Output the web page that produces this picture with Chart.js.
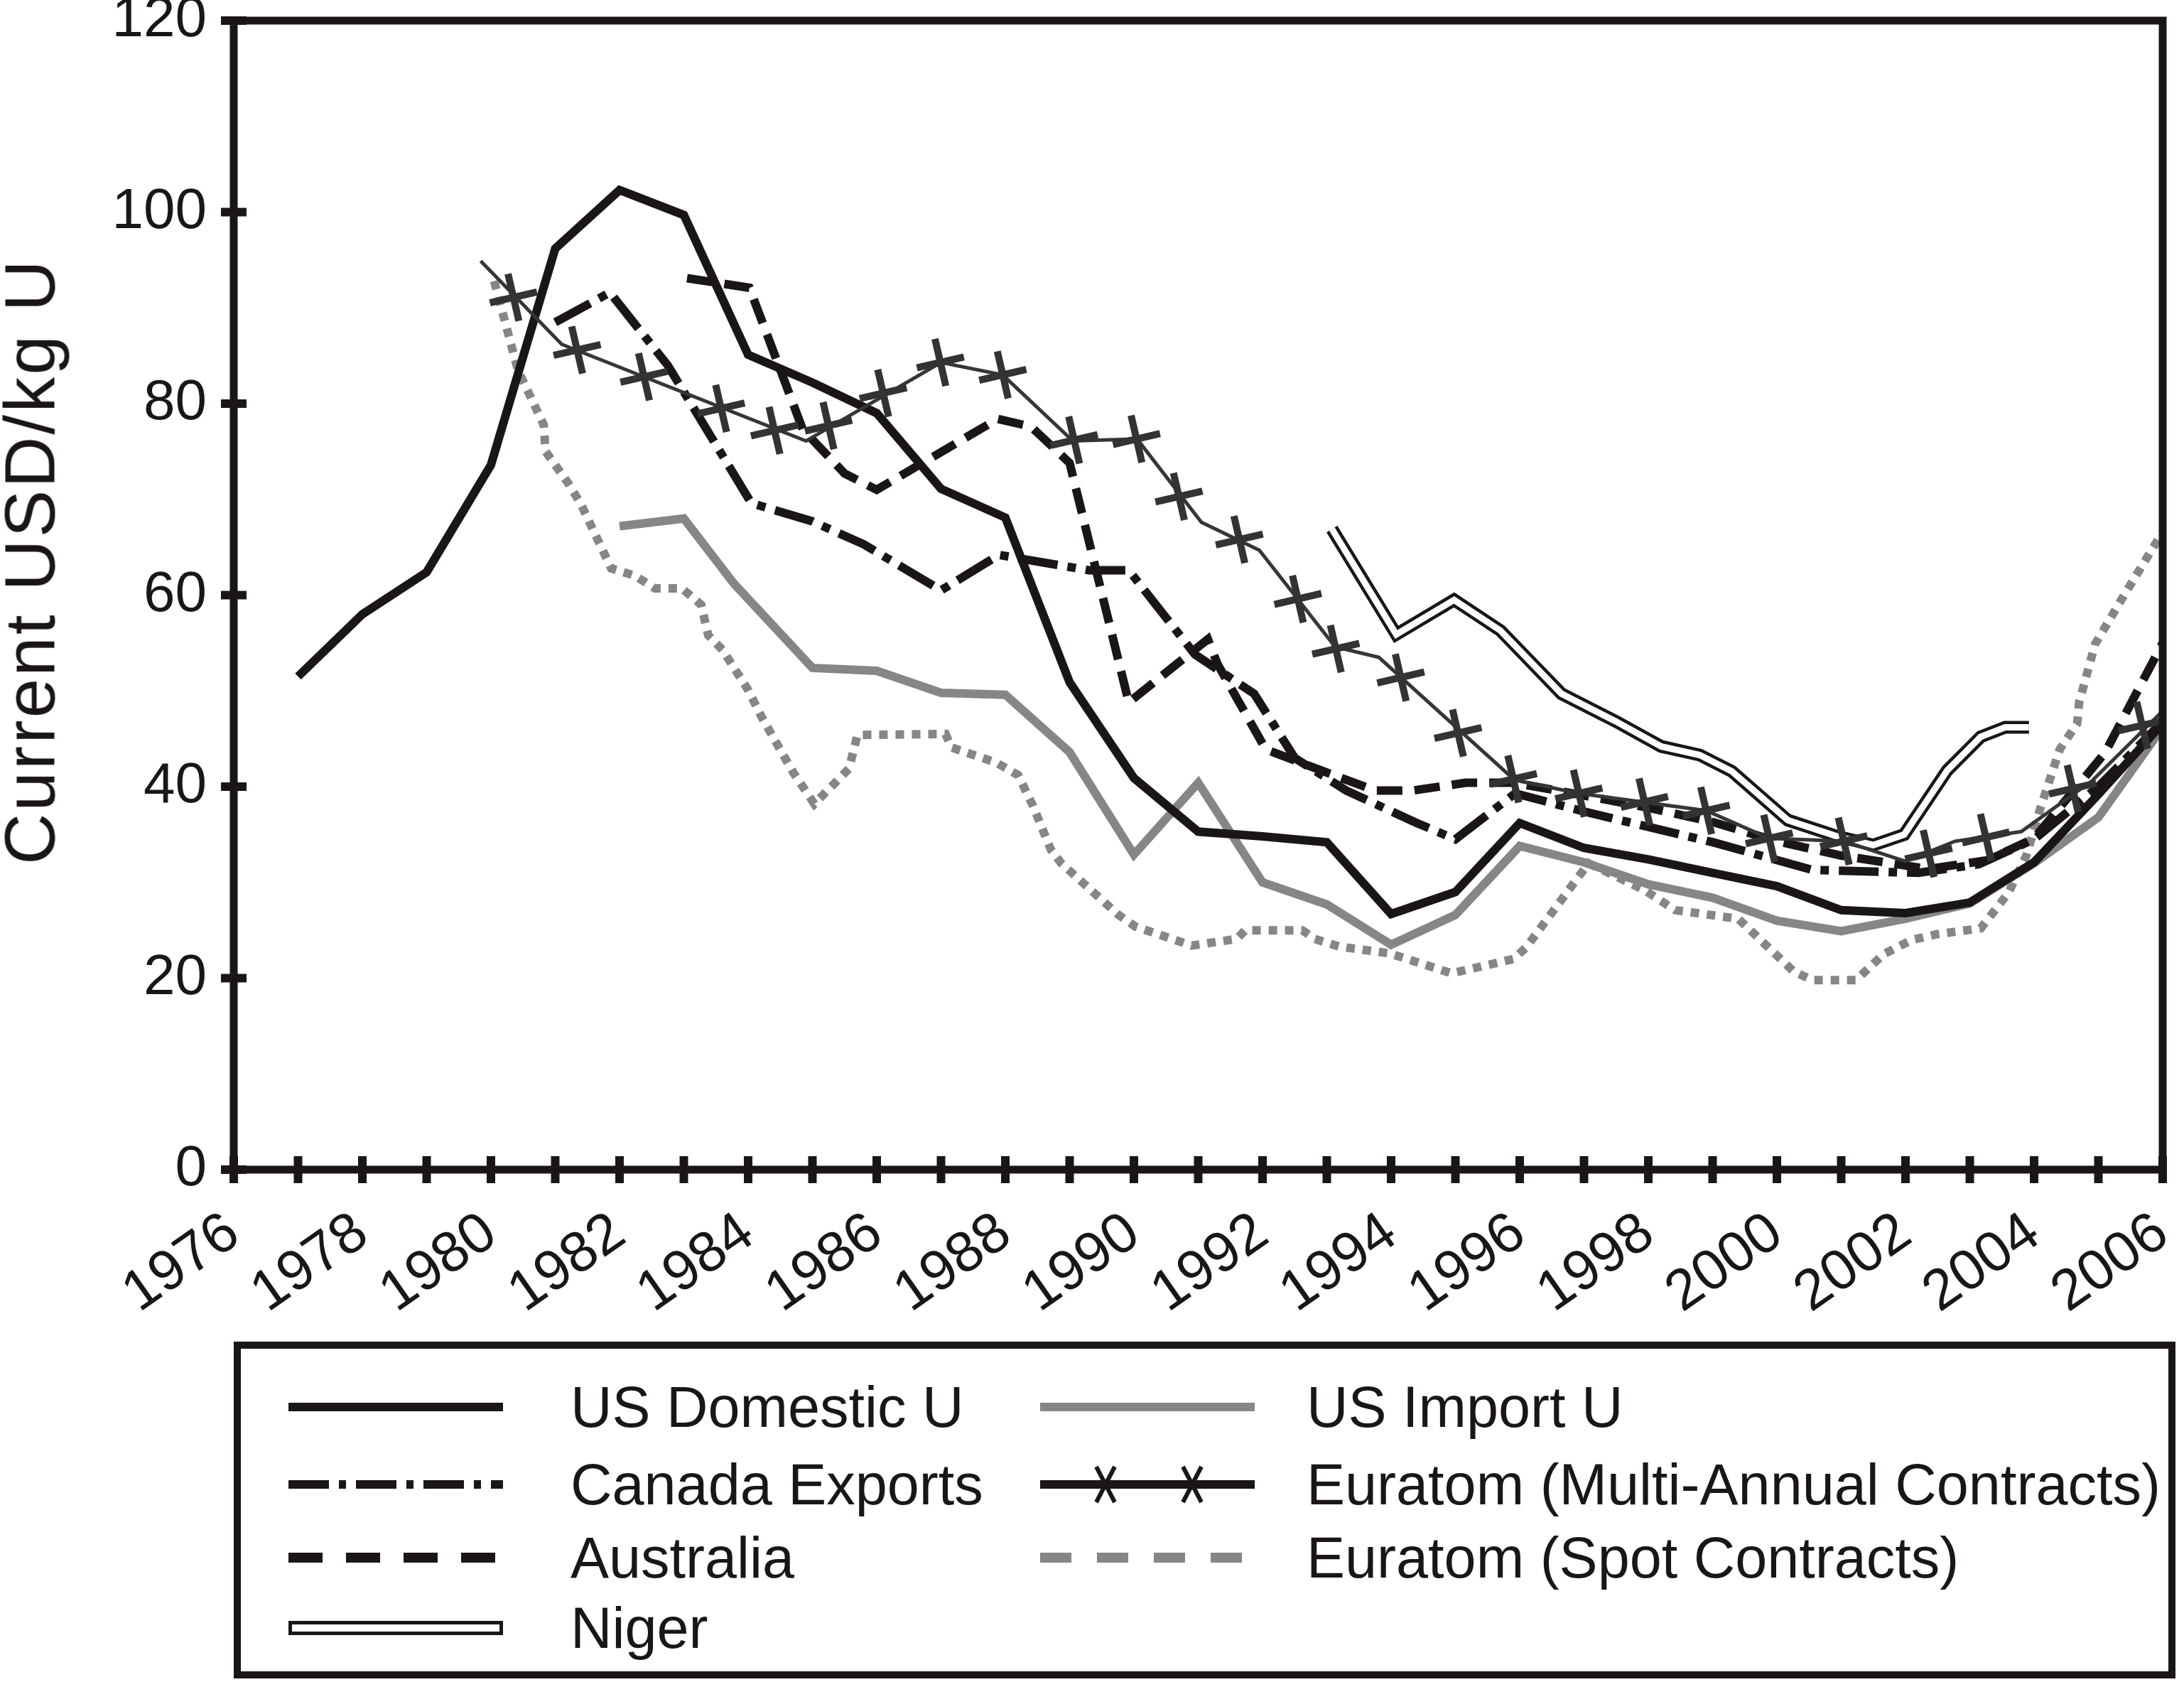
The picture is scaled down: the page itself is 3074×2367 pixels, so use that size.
<!DOCTYPE html>
<html>
<head>
<meta charset="utf-8">
<title>Uranium prices</title>
<script src="https://cdn.jsdelivr.net/npm/chart.js@4.4.0/dist/chart.umd.min.js"></script>
<style>
    html, body { margin: 0; padding: 0; background: #fff; }
    #wrap { position: relative; width: 3074px; height: 2367px; font-family: "Liberation Sans", Arial, sans-serif; color: #1a1617; }
    #salesChart { position: absolute; left: 0; top: 0; }
    #yTitle { position: absolute; left: 42px; top: 790px; transform: translate(-50%, -50%) rotate(-90deg); white-space: nowrap; font-size: 100px; letter-spacing: 3px; }
    #legend { position: absolute; left: 329px; top: 1888px; width: 2733px; height: 474px; box-sizing: border-box; border: 10px solid #1a1617; font-size: 81px; }
    .item { position: absolute; height: 100px; display: flex; align-items: center; white-space: nowrap; }
    .item svg { flex: none; }
</style>
</head>
<body>
<div id="wrap">
    <canvas id="salesChart" width="3074" height="2367" style="width:3074px;height:2367px"></canvas>
    <div id="yTitle">Current USD/kg U</div>
    <div id="legend"></div>
</div>
<script>
// Years and prices (USD/kg U)
const usDomesticYears = [1977, 1978, 1979, 1980, 1981, 1982, 1983, 1984, 1985, 1986, 1987, 1988, 1989, 1990, 1991, 1992, 1993, 1994, 1995, 1996, 1997, 1998, 1999, 2000, 2001, 2002, 2003, 2004, 2005, 2006];
const usDomesticValues = [51.5, 58.0, 62.4, 73.6, 96.2, 102.3, 99.7, 85.1, 82.2, 79.0, 71.1, 68.1, 50.9, 40.9, 35.3, 34.8, 34.2, 26.7, 29.0, 36.2, 33.6, 32.4, 31.0, 29.6, 27.1, 26.8, 27.9, 32.1, 39.2, 46.6];

const usImportYears = [1982, 1983, 1983.78, 1985, 1986, 1987, 1988, 1989, 1990, 1991, 1992, 1993, 1994, 1995, 1996, 1997, 1998, 1999, 2000, 2001, 2002, 2003, 2004, 2005, 2006];
const usImportValues = [67.2, 68.0, 61.2, 52.4, 52.1, 49.8, 49.6, 43.6, 32.9, 40.4, 30.0, 27.7, 23.5, 26.6, 33.8, 32.1, 29.8, 28.4, 26.0, 24.9, 26.2, 27.8, 32.0, 36.8, 46.2];

const canadaYears = [1981.0, 1981.85, 1982.75, 1984.05, 1985.0, 1985.8, 1987.0, 1987.9, 1989.3, 1989.92, 1990.95, 1991.87, 1992.5, 1993.3, 1994.4, 1995.0, 1995.93, 1997.0, 1998.0, 1999.0, 2000.55, 2002.2, 2003.14, 2004.0, 2005.0, 2006.0];
const canadaValues = [88.5, 91.6, 84.0, 69.6, 67.7, 65.3, 60.5, 64.2, 62.6, 62.6, 53.8, 49.7, 43.0, 39.6, 36.2, 34.5, 39.3, 37.4, 35.8, 34.2, 31.3, 31.0, 31.9, 34.5, 40.0, 46.8];

const australiaYears = [1983.05, 1984.02, 1984.85, 1985.5, 1986.0, 1987.88, 1988.4, 1989.0, 1989.92, 1991.15, 1991.3, 1992.05, 1992.75, 1993.75, 1994.34, 1995.16, 1995.92, 1996.9, 1998.0, 1999.0, 2000.0, 2001.0, 2002.35, 2003.27, 2004.0, 2005.1, 2006.0];
const australiaValues = [93.1, 92.1, 77.3, 72.7, 71.0, 78.4, 77.6, 73.8, 48.8, 55.4, 52.8, 43.9, 42.1, 39.6, 39.6, 40.4, 40.4, 39.2, 37.8, 36.3, 34.3, 32.8, 31.4, 32.3, 34.6, 43.5, 55.0];

const nigerYears = [1993.08, 1994.08, 1994.98, 1995.7, 1996.65, 1997.5, 1998.2, 1998.8, 1999.3, 2000.17, 2000.94, 2001.5, 2001.98, 2002.65, 2003.17, 2003.55, 2003.92];
const nigerValues = [66.9, 55.9, 59.5, 56.3, 49.7, 46.8, 44.2, 43.3, 41.6, 36.5, 34.8, 33.9, 35.0, 41.7, 45.2, 46.2, 46.2];

// Euratom multi-annual: the thin line and the cross marks sit at different dates
const euratomLineYears = [1979.84, 1981.1, 1984.9, 1987.0, 1987.96, 1989.05, 1990.05, 1991.05, 1991.95, 1993.13, 1993.81, 1995.92, 1996.92, 1998.9, 1999.88, 2001.04, 2002.0, 2002.77, 2003.8, 2004.9, 2006.0];
const euratomLineValues = [94.9, 86.2, 76.1, 84.3, 83.0, 76.1, 76.3, 67.6, 64.7, 54.6, 53.5, 40.7, 39.3, 37.5, 34.6, 34.3, 32.2, 34.3, 35.3, 40.6, 47.9];
const euratomMarkYears = [1980.35, 1981.34, 1982.38, 1983.58, 1984.41, 1985.25, 1986.1, 1986.99, 1987.96, 1989.07, 1990.04, 1990.7, 1991.64, 1992.55, 1993.14, 1994.15, 1995.04, 1995.9, 1996.92, 1997.94, 1998.9, 1999.88, 2001.04, 2002.36, 2003.25, 2004.6, 2005.68];
const euratomMarkValues = [91.1, 85.6, 82.8, 79.5, 77.2, 77.7, 81.1, 84.3, 83.0, 76.2, 76.3, 70.3, 65.8, 59.6, 54.4, 51.4, 45.6, 40.8, 39.3, 38.4, 37.5, 34.6, 34.3, 33.0, 34.7, 39.8, 46.4];

const spotYears = [1980.05, 1980.42, 1980.82, 1980.85, 1981.2, 1981.4, 1981.87, 1982.25, 1982.55, 1982.97, 1983.27, 1983.38, 1983.6, 1984.0, 1984.2, 1984.7, 1985.03, 1985.57, 1985.7, 1987.07, 1987.16, 1987.86, 1988.2, 1988.43, 1988.71, 1988.87, 1989.76, 1990.02, 1990.9, 1991.6, 1991.73, 1992.62, 1992.81, 1993.19, 1993.97, 1994.94, 1995.9, 1996.1, 1997.07, 1997.94, 1998.42, 1999.4, 2000.26, 2000.55, 2001.23, 2001.66, 2002.1, 2002.5, 2003.17, 2003.6, 2003.88, 2004.1, 2004.4, 2004.67, 2004.7, 2004.95, 2005.4, 2006.0];
const spotValues = [92.8, 83.5, 77.8, 75.0, 71.7, 69.5, 62.8, 62.0, 60.7, 60.7, 59.0, 55.8, 54.3, 50.1, 47.4, 41.5, 38.2, 41.9, 45.4, 45.5, 44.1, 42.5, 41.2, 38.0, 33.4, 32.0, 26.6, 25.4, 23.4, 24.1, 25.0, 25.0, 24.1, 23.3, 22.6, 20.5, 22.0, 23.2, 32.0, 29.2, 27.1, 26.2, 20.7, 19.8, 19.8, 22.5, 24.0, 24.6, 25.2, 28.9, 32.8, 37.8, 43.9, 46.6, 48.8, 54.9, 60.0, 66.6];

// Axis ranges and legend texts
const yearMin = 1976;
const yearMax = 2006;
const priceMax = 120;
const priceStep = 20;
const legendLabels = ["US Domestic U", "Canada Exports", "Australia", "Niger", "US Import U", "Euratom (Multi-Annual Contracts)", "Euratom (Spot Contracts)"];

const INK = "#1a1617";
const GREY = "#868686";

function toPoints(xs, ys) {
    return xs.map((x, i) => ({ x: x, y: ys[i] }));
}

// Tick marks that cross the axes, plus the closed frame round the plot
const frameTicksPlugin = {
    id: "frameTicks",
    afterDraw(chart) {
        const { ctx, chartArea: a, scales: { x, y } } = chart;
        ctx.save();
        ctx.strokeStyle = INK;
        ctx.lineCap = "butt";
        ctx.lineWidth = 12;
        x.ticks.forEach(t => {
            const px = x.getPixelForValue(t.value);
            ctx.beginPath();
            ctx.moveTo(px, a.bottom - 19);
            ctx.lineTo(px, a.bottom + 19);
            ctx.stroke();
        });
        y.ticks.forEach(t => {
            const py = y.getPixelForValue(t.value);
            ctx.beginPath();
            ctx.moveTo(a.left - 18, py);
            ctx.lineTo(a.left + 18, py);
            ctx.stroke();
        });
        ctx.lineWidth = 11;
        ctx.lineJoin = "miter";
        ctx.strokeRect(a.left, a.top, a.right - a.left, a.bottom - a.top);
        ctx.restore();
    }
};

function lineSet(label, xs, ys, color, width, dash) {
    return {
        label: label,
        data: toPoints(xs, ys),
        borderColor: color,
        borderWidth: width,
        borderDash: dash || [],
        borderCapStyle: "butt",
        borderJoinStyle: "miter",
        pointRadius: 0,
        fill: false,
        tension: 0
    };
}

function createChart() {
    const ctx = document.getElementById("salesChart").getContext("2d");

    // first dataset is painted on top
    const datasets = [
        {
            label: legendLabels[5] + " marks",
            data: toPoints(euratomMarkYears, euratomMarkValues),
            showLine: false,
            pointStyle: "cross",
            pointRadius: 34,
            pointHoverRadius: 34,
            pointRotation: -13,
            pointBorderWidth: 10,
            pointBorderColor: "#333333",
            pointBackgroundColor: "#333333"
        },
        lineSet(legendLabels[5], euratomLineYears, euratomLineValues, "#363636", 5),
        lineSet(legendLabels[3] + " inner", nigerYears, nigerValues, "#ffffff", 9),
        lineSet(legendLabels[3], nigerYears, nigerValues, INK, 18),
        lineSet(legendLabels[0], usDomesticYears, usDomesticValues, INK, 12),
        lineSet(legendLabels[1], canadaYears, canadaValues, INK, 12, [56, 14, 12, 14]),
        lineSet(legendLabels[2], australiaYears, australiaValues, INK, 12, [36, 17]),
        lineSet(legendLabels[4], usImportYears, usImportValues, GREY, 12),
        lineSet(legendLabels[6], spotYears, spotValues, GREY, 12, [12, 11])
    ];

    window.priceChart = new Chart(ctx, {
        type: "line",
        data: { datasets: datasets },
        plugins: [frameTicksPlugin],
        options: {
            responsive: false,
            animation: false,
            devicePixelRatio: 1,
            // no extra room for the big cross marks, the frame sits where the reference has it
            layout: { autoPadding: false, padding: { left: 0, right: 30, top: 29, bottom: 0 } },
            plugins: {
                legend: { display: false },
                tooltip: { enabled: false }
            },
            scales: {
                x: {
                    type: "linear",
                    min: yearMin,
                    max: yearMax,
                    grid: { display: false },
                    border: { display: false },
                    ticks: {
                        stepSize: 1,
                        autoSkip: false,
                        minRotation: 35,
                        maxRotation: 35,
                        padding: 34,
                        color: INK,
                        font: { family: "Liberation Sans", size: 80 },
                        callback: v => (v % 2 === 0 ? String(v) : "")
                    },
                    afterFit: s => {
                        s.height = 2367 - 1646;
                        s.paddingLeft = 0;
                        s.paddingRight = 0;
                    }
                },
                y: {
                    min: 0,
                    max: priceMax,
                    grid: { display: false },
                    border: { display: false },
                    ticks: {
                        stepSize: priceStep,
                        padding: 30,
                        color: INK,
                        font: { family: "Liberation Sans", size: 80, lineHeight: 0.5 }
                    },
                    afterFit: s => {
                        s.width = 329;
                        s.paddingTop = 0;
                        s.paddingBottom = 0;
                    }
                }
            }
        }
    });
}

// Legend drawn as html under the plot
function sampleSvg(kind) {
    const w = 302;
    let body = "";
    if (kind === 0) body = `<line x1="0" y1="50" x2="${w}" y2="50" stroke="${INK}" stroke-width="12"/>`;
    if (kind === 1) body = `<line x1="0" y1="50" x2="${w}" y2="50" stroke="${INK}" stroke-width="12" stroke-dasharray="57 14 10 14"/>`;
    if (kind === 2) body = `<line x1="0" y1="50" x2="${w}" y2="50" stroke="${INK}" stroke-width="14" stroke-dasharray="48 33"/>`;
    if (kind === 3) body = `<rect x="2.5" y="42.5" width="${w - 5}" height="15" fill="#fff" stroke="${INK}" stroke-width="5"/>`;
    if (kind === 4) body = `<line x1="0" y1="50" x2="${w}" y2="50" stroke="${GREY}" stroke-width="12"/>`;
    if (kind === 5) {
        body = `<line x1="0" y1="50" x2="${w}" y2="50" stroke="${INK}" stroke-width="12"/>`;
        [92, 214].forEach(cx => {
            body += `<path d="M${cx - 13} 25 L${cx + 13} 75 M${cx + 13} 25 L${cx - 13} 75" stroke="${INK}" stroke-width="6" fill="none"/>`;
        });
    }
    if (kind === 6) body = `<line x1="0" y1="50" x2="${w}" y2="50" stroke="${GREY}" stroke-width="14" stroke-dasharray="44 36"/>`;
    return `<svg width="${w}" height="100" viewBox="0 0 ${w} 100">${body}</svg>`;
}

function createLegend() {
    const box = document.getElementById("legend");
    const rows = [82, 191, 294, 393];
    const cols = [{ left: 67, gap: 95 }, { left: 1125, gap: 73 }];
    legendLabels.forEach((label, i) => {
        const col = i < 4 ? cols[0] : cols[1];
        const row = i < 4 ? rows[i] : rows[i - 4];
        const item = document.createElement("div");
        item.className = "item";
        item.style.left = col.left + "px";
        item.style.top = (row - 50) + "px";
        item.innerHTML = sampleSvg(i) + `<span style="margin-left:${col.gap}px">${label}</span>`;
        box.appendChild(item);
    });
}

document.addEventListener("DOMContentLoaded", () => {
    createChart();
    createLegend();
});
</script>
</body>
</html>
